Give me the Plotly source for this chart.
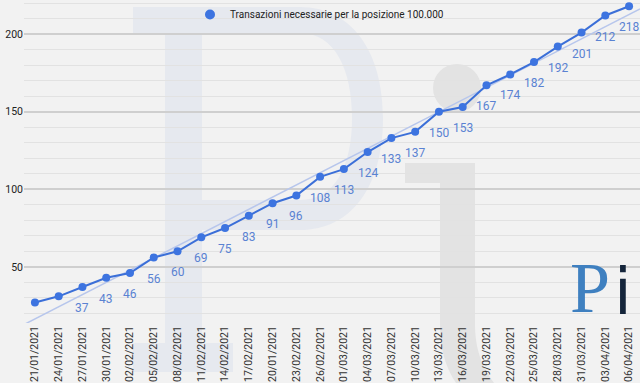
import numpy as np
import plotly.graph_objects as go

dates = ["21/01/2021", "24/01/2021", "27/01/2021", "30/01/2021", "02/02/2021", "05/02/2021",
         "08/02/2021", "11/02/2021", "14/02/2021", "17/02/2021", "20/01/2021", "23/02/2021",
         "26/02/2021", "01/03/2021", "04/03/2021", "07/03/2021", "10/03/2021", "13/03/2021",
         "16/03/2021", "19/03/2021", "22/03/2021", "25/03/2021", "28/03/2021", "31/03/2021",
         "03/04/2021", "06/04/2021"]
values = [27, 31, 37, 43, 46, 56, 60, 69, 75, 83, 91, 96, 108, 113, 124, 133, 137, 150,
          153, 167, 174, 182, 192, 201, 212, 218]
series_name = "Transazioni necessarie per la posizione 100.000"

W, H = 640, 383
ML, MR, MT, MB = 24, 0, 0, 60
PW, PH = W - ML - MR, H - MT - MB

idx = list(range(len(values)))
xr = [-0.46, len(values) - 1 + 0.46]
yr = [13.8, 222]

coef = np.polyfit(idx, values, 1)
trend_x = xr
trend_y = [coef[0] * x + coef[1] for x in trend_x]

LINE = "#3b6fd8"
LABEL = "#5a82d2"
BG = "#f2f2f2"

fig = go.Figure()
fig.add_trace(go.Scatter(x=trend_x, y=trend_y, mode="lines",
                         line=dict(color="#b7c6ec", width=1.5), showlegend=False,
                         hoverinfo="skip"))
fig.add_trace(go.Scatter(x=idx, y=values, mode="lines+markers",
                         line=dict(color=LINE, width=2),
                         marker=dict(color="#3d74e0", size=8),
                         showlegend=False))
fig.add_trace(go.Scatter(x=[None], y=[None], mode="markers", name=series_name,
                         marker=dict(color="#3d74e0", size=10)))

for i, v in zip(idx, values):
    if i < 2:
        continue
    fig.add_annotation(x=i, y=v, text=str(v), showarrow=False, yshift=-21,
                       font=dict(family="Roboto", size=12, color=LABEL))


def px(x):
    return (x - ML) / PW


def py(y):
    return (MT + PH - y) / PH


def path(cmds):
    out = []
    for c in cmds:
        if isinstance(c, str):
            out.append(c)
        else:
            out.append("%.4f,%.4f" % (px(c[0]), py(c[1])))
    return " ".join(out)


P_COL = "#e6e9ef"
I_COL = "#e3e3e3"
p_path = path(["M", (133, 7), "L", (300, 7), "C", (352, 7), (383, 52), (383, 118),
               "C", (383, 186), (352, 230), (300, 230), "L", (202, 230), "L", (202, 343),
               "L", (233, 343), "L", (233, 372), "L", (133, 372), "L", (133, 343),
               "L", (165, 343), "L", (165, 33), "L", (133, 33), "Z",
               "M", (202, 33), "L", (300, 33), "C", (335, 33), (352, 70), (352, 118),
               "C", (352, 166), (335, 200), (300, 200), "L", (202, 200), "Z"])
fig.add_shape(type="path", path=p_path, xref="paper", yref="paper", layer="below",
              fillcolor=P_COL, line=dict(width=0), fillrule="evenodd")
i_path = path(["M", (405, 163), "L", (475, 163), "L", (475, 323), "C", (475, 350), (482, 366), (494, 383),
               "L", (456, 383), "C", (446, 368), (440, 350), (440, 323), "L", (440, 183),
               "L", (405, 183), "Z"])
fig.add_shape(type="path", path=i_path, xref="paper", yref="paper", layer="below",
              fillcolor=I_COL, line=dict(width=0))
fig.add_shape(type="circle", xref="paper", yref="paper", layer="below",
              x0=px(433), x1=px(481), y0=py(112), y1=py(64),
              fillcolor=I_COL, line=dict(width=0))

# small logo
fig.add_annotation(xref="paper", yref="paper", x=px(590), y=py(288), text="P", showarrow=False,
                   font=dict(family="Liberation Serif", size=72, color="#3f80c0"),
                   xanchor="center", yanchor="middle")
fig.add_annotation(xref="paper", yref="paper", x=px(623), y=py(292), text="i", showarrow=False,
                   font=dict(family="DejaVu Sans", size=64, color="#15253b"),
                   xanchor="center", yanchor="middle")

fig.update_layout(
    width=W, height=H,
    margin=dict(l=ML, r=MR, t=MT, b=MB),
    paper_bgcolor=BG, plot_bgcolor="rgba(0,0,0,0)",
    font=dict(family="Roboto", color="#333333"),
    showlegend=True,
    legend=dict(x=px(190), y=1.0, xanchor="left", yanchor="top", orientation="h",
                bgcolor="rgba(0,0,0,0)", font=dict(size=10, color="#222222")),
    xaxis=dict(range=xr, tickmode="array", tickvals=idx, ticktext=dates, tickangle=-90,
               showgrid=False, zeroline=False, showline=False, automargin=False,
               tickfont=dict(size=10.5, color="#333333")),
    yaxis=dict(range=yr, tickvals=[50, 100, 150, 200], showgrid=True, gridcolor="#cfcfcf",
               gridwidth=1.5, zeroline=False, showline=False, automargin=False,
               tickfont=dict(size=10.5, color="#222222"),
               minor=dict(dtick=10, tick0=0, showgrid=True, gridcolor="#e2e2e2", gridwidth=1)),
)

fig.write_html("out.html", config={"displayModeBar": False},
               post_script="document.body.style.margin='0';document.body.style.overflow='hidden';")
